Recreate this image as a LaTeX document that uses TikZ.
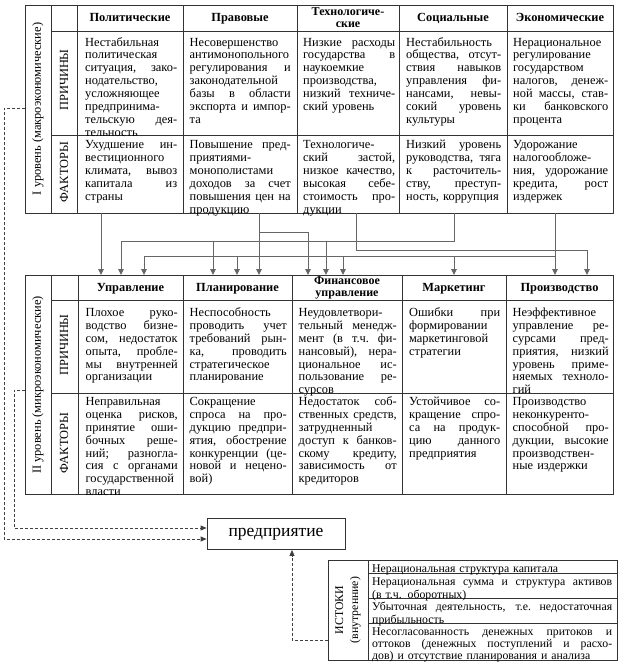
\documentclass[tikz,border=0pt]{standalone}
\usepackage{fontspec}
\setmainfont{Liberation Serif}
\usetikzlibrary{arrows.meta}
\newcommand\jline[1]{\par\noindent\hbox to\hsize{\spaceskip=.25em plus 1fil\xspaceskip=\spaceskip\strut#1}}
\newcommand\lline[1]{\par\noindent\hbox to\hsize{\strut#1\hfil}}
\newcommand\cellfont{\fontsize{12.4}{12.9}\selectfont}
\newcommand\hdrfont{\fontsize{12.4}{11}\selectfont\bfseries}
\newcommand\hdrtwofont{\fontsize{12}{11.6}\selectfont\bfseries}
\newcommand\istfont{\fontsize{11.8}{12}\selectfont}
\hbadness=10000
\hfuzz=20pt
\begin{document}
\begin{tikzpicture}[x=1pt,y=-1pt,
  tbl/.style={draw=black!80, line width=0.8pt},
  conn/.style={draw=black!60, line width=0.9pt},
  arrowend/.style={-{Triangle[length=6pt,width=5.5pt]}},
  dsh/.style={draw=black!75, line width=0.8pt, dash pattern=on 3pt off 2pt, -{Triangle[length=6pt,width=5pt]}},
  cell/.style={anchor=north west, inner sep=0pt, font=\cellfont},
  istcell/.style={anchor=north west, inner sep=0pt, font=\istfont, text width=240pt},
  hdr/.style={inner sep=0pt, font=\hdrfont, align=center},
  hdrtwo/.style={inner sep=0pt, font=\hdrtwofont, align=center},
  vlab/.style={rotate=90, inner sep=0pt, font=\cellfont}]
\useasboundingbox (0,0) rectangle (624,669);

% ---------- Table I ----------
\draw[tbl] (25,5) rectangle (613,213);
\foreach \x in {51,77,183,297,399,507} \draw[tbl] (\x,5) -- (\x,213);
\draw[tbl] (51,31) -- (613,31);
\draw[tbl] (51,135) -- (613,135);

\node[vlab] (lv1) at (38,109) {I уровень (макроэкономические)};
\node[vlab] (pr1) at (64,80) {ПРИЧИНЫ};
\node[vlab] (fa1) at (64,172) {ФАКТОРЫ};

\node[hdr, anchor=base] (h11) at (130,22) {Политические};
\node[hdr, anchor=base] (h12) at (240,22) {Правовые};
\node[hdrtwo] (h13) at (348,17.8) {Технологиче-\\ские};
\node[hdr, anchor=base] (h14) at (453,22) {Социальные};
\node[hdr, anchor=base] (h15) at (560,22) {Экономические};

\node[cell,text width=92pt] (c111) at (85,33) {\jline{Нестабильная}\jline{политическая}\jline{ситуация, зако-}\jline{нодательство,}\jline{усложняющее}\jline{предпринима-}\jline{тельскую дея-}\lline{тельность}};
\node[cell,text width=101pt] (c112) at (189.5,33) {\jline{Несовершенство}\jline{антимонопольного}\jline{регулирования и}\jline{законодательной}\jline{базы в области}\jline{экспорта и импор-}\lline{та}};
\node[cell,text width=92pt] (c113) at (303,33) {\jline{Низкие расходы}\jline{государства в}\jline{наукоемкие}\jline{производства,}\jline{низкий техниче-}\lline{ский уровень}};
\node[cell,text width=95pt] (c114) at (406,33) {\jline{Нестабильность}\jline{общества, отсут-}\jline{ствия навыков}\jline{управления фи-}\jline{нансами, невы-}\jline{сокий уровень}\lline{культуры}};
\node[cell,text width=95pt] (c115) at (513,33) {\jline{Нерациональное}\jline{регулирование}\jline{государством}\jline{налогов, денеж-}\jline{ной массы, став-}\jline{ки банковского}\lline{процента}};

\node[cell,text width=92pt] (c121) at (85,135.5) {\jline{Ухудшение ин-}\jline{вестиционного}\jline{климата, вывоз}\jline{капитала из}\lline{страны}};
\node[cell,text width=101pt] (c122) at (189.5,135.5) {\jline{Повышение пред-}\jline{приятиями-}\jline{монополистами}\jline{доходов за счет}\jline{повышения цен на}\lline{продукцию}};
\node[cell,text width=92pt] (c123) at (303,135.5) {\jline{Технологиче-}\jline{ский застой,}\jline{низкое качество,}\jline{высокая себе-}\jline{стоимость про-}\lline{дукции}};
\node[cell,text width=95pt] (c124) at (406,135.5) {\jline{Низкий уровень}\jline{руководства, тяга}\jline{к расточитель-}\jline{ству, преступ-}\lline{ность, коррупция}};
\node[cell,text width=95pt] (c125) at (513,135.5) {\jline{Удорожание}\jline{налогообложе-}\jline{ния, удорожание}\jline{кредита, рост}\lline{издержек}};

% ---------- connectors ----------
\coordinate (s1) at (101,213);
\coordinate (s2) at (259,213);
\coordinate (s3) at (356,213);
\coordinate (s4) at (454,213);
\coordinate (s5) at (555,213);
\coordinate (u1) at (101,275);
\coordinate (u2) at (121,275);
\coordinate (u3) at (144,275);
\coordinate (p1) at (213,275);
\coordinate (p2) at (237,275);
\coordinate (p3) at (259,275);
\coordinate (f1) at (308,275);
\coordinate (f2) at (326,275);
\coordinate (f3) at (343,275);
\coordinate (m1) at (454,275);
\coordinate (r1) at (555,275);
\coordinate (r2) at (587,275);
\coordinate (j2) at (259,232);
\coordinate (j3) at (356,250);
\coordinate (j4) at (454,241);
\coordinate (j5) at (555,256);

\draw[conn,arrowend] (s1) -- (u1);
\draw[conn,arrowend] (s2) -- (p3);
\draw[conn,arrowend] (j2) -| (f1);
\draw[conn,arrowend] (s4) -- (j4) -| (u2);
\draw[conn,arrowend] (p1 |- j4) -- (p1);
\draw[conn,arrowend] (f2 |- j4) -- (f2);
\draw[conn,arrowend] (s5) -- (r1);
\draw[conn,arrowend] (j5) -| (u3);
\draw[conn,arrowend] (p2 |- j5) -- (p2);
\draw[conn,arrowend] (f3 |- j5) -- (f3);
\draw[conn,arrowend] (m1 |- j5) -- (m1);
\draw[conn,arrowend] (s3) -- (j3) -| (r2);

% ---------- Table II ----------
\draw[tbl] (25,275) rectangle (613,494);
\foreach \x in {51,78,183,292,402,506} \draw[tbl] (\x,275) -- (\x,494);
\draw[tbl] (51,300) -- (613,300);
\draw[tbl] (51,393) -- (613,393);

\node[vlab] (lv2) at (38,385) {II уровень (микроэкономические)};
\node[vlab] (pr2) at (64,345) {ПРИЧИНЫ};
\node[vlab] (fa2) at (64,443) {ФАКТОРЫ};

\node[hdr, anchor=base] (h21) at (130.5,291.5) {Управление};
\node[hdr, anchor=base] (h22) at (237.5,291.5) {Планирование};
\node[hdrtwo] (h23) at (347,288) {Финансовое\\управление};
\node[hdr, anchor=base] (h24) at (454,291.5) {Маркетинг};
\node[hdr, anchor=base] (h25) at (559.5,291.5) {Производство};

\node[cell,text width=92pt] (c211) at (85.5,303.3) {\jline{Плохое руко-}\jline{водство бизне-}\jline{сом, недостаток}\jline{опыта, пробле-}\jline{мы внутренней}\lline{организации}};
\node[cell,text width=97pt] (c212) at (189.5,303.3) {\jline{Неспособность}\jline{проводить учет}\jline{требований рын-}\jline{ка, проводить}\jline{стратегическое}\lline{планирование}};
\node[cell,text width=98pt] (c213) at (298.5,303.3) {\jline{Неудовлетвори-}\jline{тельный менедж-}\jline{мент (в т.ч. фи-}\jline{нансовый), нера-}\jline{циональное ис-}\jline{пользование ре-}\lline{сурсов}};
\node[cell,text width=91pt] (c214) at (409,303.3) {\jline{Ошибки при}\jline{формировании}\jline{маркетинговой}\lline{стратегии}};
\node[cell,text width=96pt] (c215) at (512.5,303.3) {\jline{Неэффективное}\jline{управление ре-}\jline{сурсами пред-}\jline{приятия, низкий}\jline{уровень приме-}\jline{няемых техноло-}\lline{гий}};

\node[cell,text width=92pt] (c221) at (85.5,392.3) {\jline{Неправильная}\jline{оценка рисков,}\jline{принятие оши-}\jline{бочных реше-}\jline{ний; разногла-}\jline{сия с органами}\jline{государственной}\lline{власти}};
\node[cell,text width=97pt] (c222) at (189.5,392.3) {\jline{Сокращение}\jline{спроса на про-}\jline{дукцию предпри-}\jline{ятия, обострение}\jline{конкуренции (це-}\jline{новой и нецено-}\lline{вой)}};
\node[cell,text width=98pt] (c223) at (298.5,392.3) {\jline{Недостаток соб-}\jline{ственных средств,}\jline{затрудненный}\jline{доступ к банков-}\jline{скому кредиту,}\jline{зависимость от}\lline{кредиторов}};
\node[cell,text width=91pt] (c224) at (409,392.3) {\jline{Устойчивое со-}\jline{кращение спро-}\jline{са на продук-}\jline{цию данного}\lline{предприятия}};
\node[cell,text width=96pt] (c225) at (512.5,392.3) {\jline{Производство}\jline{неконкуренто-}\jline{способной про-}\jline{дукции, высокие}\jline{производствен-}\lline{ные издержки}};

% ---------- enterprise ----------
\node[draw=black!80, line width=0.8pt, minimum width=138pt, minimum height=31pt, inner sep=0pt,
      font=\fontsize{17.5}{20}\selectfont] (ent) at (276,534) {предприятие};

% ---------- sources box ----------
\draw[tbl] (328,560) rectangle (617,660);
\draw[tbl] (368,560) -- (368,660);
\foreach \y in {573,598,623} \draw[tbl] (368,\y) -- (617,\y);
\node[rotate=90, inner sep=0pt, font=\istfont, align=center] (ist) at (348,610) {ИСТОКИ\\[3pt](внутренние)};
\node[istcell] (i1) at (372,560.6) {\lline{Нерациональная структура капитала}};
\node[istcell] (i2) at (372,573.6) {\jline{Нерациональная сумма и структура активов}\lline{(в т.ч. оборотных)}};
\node[istcell] (i3) at (372,598.6) {\jline{Убыточная деятельность, т.е. недостаточная}\lline{прибыльность}};
\node[istcell] (i4) at (372,623.6) {\jline{Несогласованность денежных притоков и}\jline{оттоков (денежных поступлений и расхо-}\lline{дов) и отсутствие планирования и анализа}};

% ---------- dashed links ----------
\coordinate (t1w) at (25,108);
\coordinate (t2w) at (25,390);
\coordinate (k1) at (14,528);
\coordinate (k2) at (4,539);
\coordinate (isw) at (328,640);
\coordinate (k3) at (292,640);
\draw[dsh] (t1w) -- (4,108) -- (k2) -- (ent.west |- k2);
\draw[dsh] (t2w) -- (14,390) -- (k1) -- (ent.west |- k1);
\draw[dsh] (isw) -- (k3) -- (k3 |- ent.south);
\end{tikzpicture}
\end{document}
